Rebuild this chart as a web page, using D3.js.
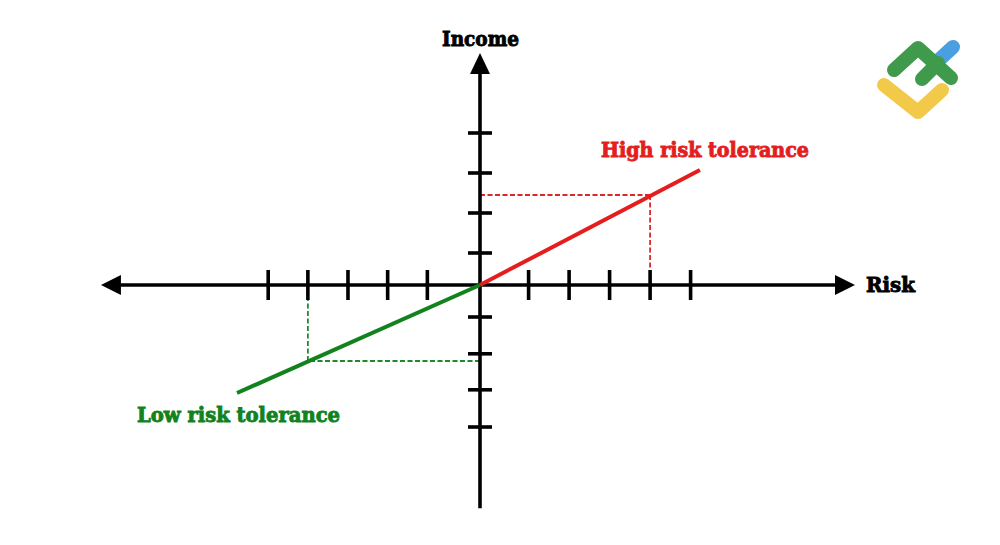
<!DOCTYPE html>
<html><head><meta charset="utf-8">
<script src="https://cdn.jsdelivr.net/npm/d3@7"></script>
<style>html,body{margin:0;padding:0;background:#fff;}svg{display:block;}</style>
</head><body>
<svg id="chart" width="1000" height="545"></svg>
<script>
// ---- data (abstract axis units) ----
const xTicks = [-5.23, -4.25, -3.26, -2.28, -1.3, 1.2, 2.2, 3.2, 4.2, 5.2];
const yTicks = [3.8, 2.8, 1.8, 0.8, -0.8, -1.72, -2.62, -3.55];
const xExtent = [-9.36, 9.26];
const yExtent = [-5.58, 5.8];
const seriesNames = ["High risk tolerance", "Low risk tolerance"];
const lineEnds = [[5.43, 2.875], [-6.0, -2.7]];
const markedPoints = [[4.2, 2.25], [-4.25, -1.9]];
const axisTitles = ["Risk", "Income"];
const seriesColors = ["#e41e1e", "#11821d"];
const guideColors = ["#d92a2a", "#1f8a2c"];

const svg = d3.select("#chart");
const x = d3.scaleLinear().domain([0, 1]).range([480, 520.5]);
const y = d3.scaleLinear().domain([0, 1]).range([285, 245]);
const FONT = "'DejaVu Serif', serif";

// dashed guides
markedPoints.forEach((p, i) => {
  const g = svg.append("g").attr("stroke", guideColors[i]).attr("stroke-width", 1.8)
    .attr("stroke-dasharray", "5,2.5").attr("fill", "none");
  g.append("line").attr("x1", x(0)).attr("x2", x(p[0])).attr("y1", y(p[1])).attr("y2", y(p[1]));
  g.append("line").attr("x1", x(p[0])).attr("x2", x(p[0])).attr("y1", y(p[1])).attr("y2", y(0));
});

// axes lines
const ax = svg.append("g").attr("stroke", "#000").attr("stroke-width", 3.6);
ax.append("line").attr("x1", x(xExtent[0]) + 16).attr("x2", x(xExtent[1]) - 16).attr("y1", y(0)).attr("y2", y(0));
ax.append("line").attr("x1", x(0)).attr("x2", x(0)).attr("y1", y(yExtent[1]) + 16).attr("y2", y(yExtent[0]));
// ticks
ax.selectAll(".xt").data(xTicks).join("line").attr("class", "xt")
  .attr("x1", d => x(d)).attr("x2", d => x(d)).attr("y1", y(0) - 15).attr("y2", y(0) + 15);
ax.selectAll(".yt").data(yTicks).join("line").attr("class", "yt")
  .attr("x1", x(0) - 12).attr("x2", x(0) + 12).attr("y1", d => y(d)).attr("y2", d => y(d));

// arrowheads
const L = x(xExtent[0]), R = x(xExtent[1]), T = y(yExtent[1]), Y0 = y(0), X0 = x(0);
svg.append("path").attr("fill", "#000").attr("d", `M${L},${Y0} L${L + 20},${Y0 - 10} L${L + 20},${Y0 + 10} Z`);
svg.append("path").attr("fill", "#000").attr("d", `M${R},${Y0} L${R - 20},${Y0 - 10} L${R - 20},${Y0 + 10} Z`);
svg.append("path").attr("fill", "#000").attr("d", `M${X0},${T} L${X0 - 10},${T + 21} L${X0 + 10},${T + 21} Z`);

// series lines
lineEnds.forEach((e, i) => {
  svg.append("line").attr("x1", x(0)).attr("y1", y(0)).attr("x2", x(e[0])).attr("y2", y(e[1]))
    .attr("stroke", seriesColors[i]).attr("stroke-width", 4);
});

// text
function label(txt, xx, yy, anchor, color, len) {
  svg.append("text").attr("x", xx).attr("y", yy).attr("text-anchor", anchor)
    .attr("font-family", FONT).attr("font-weight", "bold").attr("font-size", 20)
    .attr("fill", color).attr("stroke", color).attr("stroke-width", 0.9)
    .attr("textLength", len).attr("lengthAdjust", "spacingAndGlyphs").text(txt);
}
label(axisTitles[1], 442, 46, "start", "#000", 77);
label(axisTitles[0], 866, 292, "start", "#000", 49);
label(seriesNames[0], 601, 157, "start", seriesColors[0], 208);
label(seriesNames[1], 137, 422, "start", seriesColors[1], 203);

// logo (decorative)
const logo = svg.append("g").attr("fill", "none").attr("stroke-linecap", "round").attr("stroke-linejoin", "round").attr("stroke-width", 14);
logo.append("path").attr("d", "M884,85 L918,112 L942,90").attr("stroke", "#f3c94a");
logo.append("path").attr("d", "M940,59 L953,47").attr("stroke", "#4a9fe0");
logo.append("path").attr("d", "M894,70 L918,48 L951,78").attr("stroke", "#3f9a4b");
logo.append("path").attr("d", "M922,79 L938,63").attr("stroke", "#3f9a4b");
</script>
</body></html>
